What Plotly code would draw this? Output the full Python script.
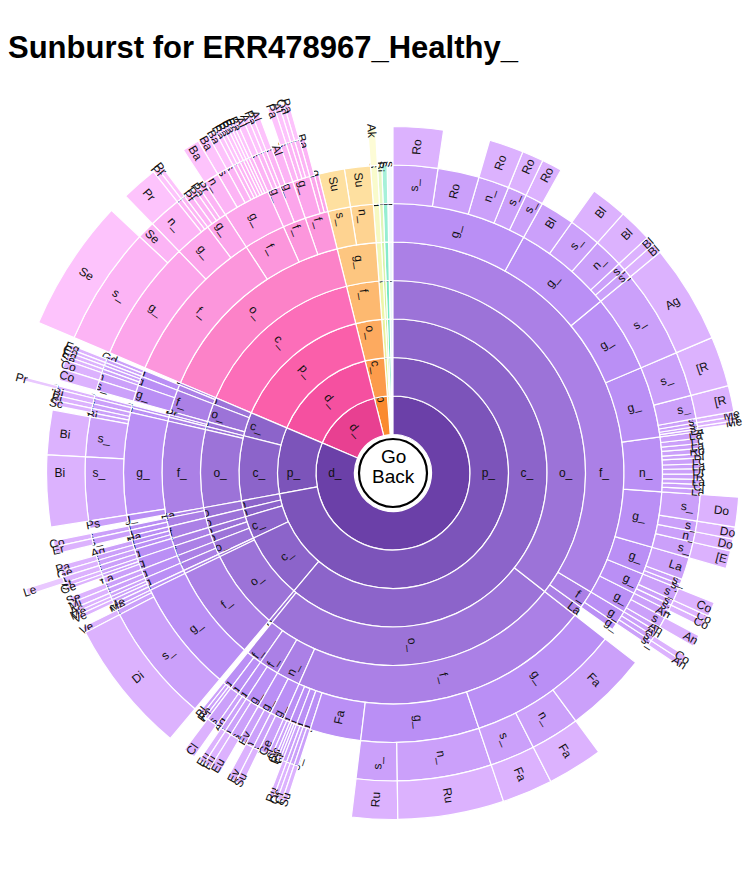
import plotly.graph_objects as go

# leaf paths run clockwise from 12 o'clock; "#n" only keeps sibling ids apart
LACH = "d_#A/p_#1/c_#1/o_#1/f_#1/"
LACH2 = "d_#A/p_#1/c_#1/o_#1/"
OSC = "d_#A/p_#1/c_#1/o_#2/"
NEG = "d_#A/p_#1/c_#2/"
C3 = "d_#A/p_#1/c_#3/"
N1 = "d_#A/p_#1/n_#1/"
N2 = "d_#A/p_#1/n_#2/"
ACT = "d_#A/p_#2/c_#1/"
COR = "d_#A/p_#2/c_#2/"
BAC = "d_#B/d_#1/p_#1/c_#1/o_#1/"
PRO = "p_#C/c_#1/o_#1/f_#1/g_#1/"

purple_paths = [
    LACH + "g_#1/s_#1/Ro", LACH + "g_#1/Ro", LACH + "g_#1/n_#1/Ro", LACH + "g_#1/s_#2/Ro", LACH + "g_#1/s_#3/Ro",
    LACH + "g_#2/Bl", LACH + "g_#2/s_#1/Bl", LACH + "g_#2/n_#1/Bl", LACH + "g_#2/s_#2/Bl", LACH + "g_#2/s_#3/Bl",
    LACH + "g_#3/s_#1/Ag",
    LACH + "g_#4/s_#1/[R", LACH + "g_#4/s_#2/[R", LACH + "g_#4/s_#3/Me", LACH + "g_#4/s_#4/[R",
    LACH + "g_#4/s_#5/Me", LACH + "g_#4/La",
    LACH + "n_#1/La#1", LACH + "n_#1/Lc#1", LACH + "n_#1/La#2", LACH + "n_#1/Ro", LACH + "n_#1/Bl",
    LACH + "n_#1/Lc#2", LACH + "n_#1/La#3", LACH + "n_#1/Dr", LACH + "n_#1/[R", LACH + "n_#1/La#4",
    LACH + "n_#1/Cl", LACH + "n_#1/La#5",
    LACH + "g_#5/s_#1/Do", LACH + "g_#5/s_#2/Do", LACH + "g_#5/n_#1/Do", LACH + "g_#5/s_#3/[E",
    LACH + "g_#6/La", LACH + "g_#6/s_#1", LACH + "g_#6/s_#2",
    LACH + "g_#7/s_#1/Co", LACH + "g_#7/s_#2/Co", LACH + "g_#7/s_#3/Co",
    LACH + "g_#8/An#1", LACH + "g_#8/s_#1/An", LACH + "g_#8/An#2",
    LACH2 + "f_#2/g_#1/An", LACH2 + "f_#2/g_#1/s_#1/Co", LACH2 + "f_#2/g_#1/s_#2/An", LACH2 + "f_#2/g_#2",
    LACH2 + "La",
    OSC + "f_#1/g_#1/Fa", OSC + "f_#1/g_#1/n_#1/Fa", OSC + "f_#1/g_#1/s_#1/Fa",
    OSC + "f_#1/g_#2/n_#1/Ru", OSC + "f_#1/g_#2/s_#1/Ru", OSC + "f_#1/Fa",
    OSC + "f_#1/g_#3/s_#1/Su", OSC + "f_#1/g_#3/s_#2/Cl", OSC + "f_#1/g_#4/s_#1/Oc", OSC + "f_#1/g_#4/s_#2/Ru",
    OSC + "f_#1/g_#5/cl", OSC + "f_#1/g_#5/Cl", OSC + "f_#1/g_#5/Ru", OSC + "f_#1/g_#6/Oc", OSC + "f_#1/g_#6/cl",
    OSC + "n_#1/g_#1/Ge", OSC + "n_#1/g_#1/s_#1/Su", OSC + "n_#1/g_#2/n_#1/Ev", OSC + "n_#1/g_#2/Ev",
    OSC + "f_#2/g_#1/s_#1/Eu", OSC + "f_#2/g_#1/n_#1/Eu", OSC + "f_#2/g_#2/s_#1/Eu", OSC + "f_#2/g_#2/Ag",
    OSC + "f_#3/g_#1/s_#1/Cl", OSC + "f_#3/g_#2/Cl", OSC + "f_#3/g_#2/Ro", OSC + "f_#3/g_#2/Bl",
    "d_#A/p_#1/c_#1/o_#3",
    NEG + "o_#1/f_#1/g_#1/s_#1/Di", NEG + "o_#1/f_#1/g_#1/s_#2/Ve", NEG + "o_#1/f_#1/g_#1/Me",
    NEG + "o_#2/f_#1/g_#1/Me",
    C3 + "o_#1/f_#1/g_#1/s_#1/Ve", C3 + "o_#1/f_#1/g_#1/s_#2/Me", C3 + "o_#1/f_#1/g_#1/s_#3/Ac",
    C3 + "o_#1/f_#2/g_#1/s_#1/Mi", C3 + "o_#1/f_#2/g_#1/s_#2/Se",
    C3 + "o_#2/f_#1/g_#1/La", C3 + "o_#2/f_#1/g_#1/s_#1/Ge", C3 + "o_#2/f_#1/g_#1/s_#2/St",
    C3 + "o_#3/f_#1/g_#1/s_#1/n_#1/Le", C3 + "o_#3/f_#1/g_#1/s_#2/Ge",
    N1 + "o_#1/f_#1/g_#1/s_#1/Pa", N1 + "o_#1/f_#1/g_#2/Ag", N1 + "o_#1/f_#1/Ha",
    N2 + "o_#1/f_#1/g_#1/s_#1/Er", N2 + "o_#1/f_#1/g_#2/s_#1/Co", N2 + "o_#1/Ba",
    ACT + "o_#1/f_#1/g_#0/Ps", ACT + "o_#1/f_#1/g_#1/s_#1/Bi", ACT + "o_#1/f_#1/g_#1/s_#2/Bi",
    ACT + "o_#1/f_#1/g_#1/Bi", ACT + "o_#1/f_#1/g_#1/s_#3/Sc", ACT + "o_#1/f_#1/g_#1/s_#4/Bi",
    ACT + "o_#2/f_#1/g_#1/s_#1/Bi",
    COR + "o_#1/f_#1/g_#1/s_#1/n_#1/Pr", COR + "o_#1/Pr",
    COR + "o_#2/f_#1/g_#1/s_#1/Co", COR + "o_#2/f_#1/g_#1/n_#1/Co",
    COR + "o_#2/f_#1/g_#2/s_#1/Se", COR + "o_#2/f_#1/g_#2/s_#2/Eg", COR + "o_#2/f_#1/g_#2/s_#3/Co",
    COR + "o_#3/f_#1/g_#1/s_#1/Eg", COR + "o_#3/f_#1/g_#1/Gd", COR + "o_#3/f_#2",
]
purple_sizes = [
    8.4, 7.8, 5.8, 3.6, 3.4,
    6.5, 6.1, 5.6, 1.5, 1.7,
    16.6,
    8.4, 4.4, 0.8, 0.7,
    0.5, 0.5,
    1.2, 1.0, 0.9, 1.0, 0.8,
    1.1, 0.9, 1.0, 1.0, 0.9,
    0.9, 1.0,
    5.0, 2.0, 2.0, 3.0,
    4.2, 1.0, 0.8,
    2.4, 1.0, 1.1,
    1.5, 2.0, 1.0,
    1.0, 1.0, 1.0, 1.5,
    2.5,
    15.6, 9.3, 8.5,
    17.8, 7.7, 11.0,
    0.8, 0.8, 0.7, 0.8,
    0.5, 0.5, 0.5, 0.7, 0.8,
    1.8, 1.2, 1.5, 1.5,
    1.8, 1.2, 1.0, 1.0,
    2.0, 0.6, 0.7, 0.7,
    1.0,
    22.6, 1.0, 0.6,
    0.8,
    0.7, 0.6, 0.7,
    1.0, 1.0,
    1.2, 0.6, 0.7,
    1.0, 1.0,
    1.0, 1.0, 1.0,
    1.2, 1.0, 0.9,
    1.4, 12.0, 7.5,
    0.8, 0.8, 0.9,
    1.0,
    0.6, 0.9,
    2.0, 1.5,
    0.7, 0.7, 0.6,
    0.7, 0.7, 0.6,
]

pink_paths = [
    BAC + "f_#1/g_#1/s_#1/Se", BAC + "f_#1/g_#1/Se",
    BAC + "f_#1/g_#2/n_#1/Pr", BAC + "f_#1/g_#2/s_#1/Pt", BAC + "f_#1/g_#2/s_#2/Pr",
    BAC + "f_#1/g_#3/Pt", BAC + "f_#1/g_#3/Pr#1", BAC + "f_#1/g_#3/Pa", BAC + "f_#1/g_#3/Pr#2",
    BAC + "f_#2/g_#1/n_#1/Ba", BAC + "f_#2/g_#1/s_#1/Ba", BAC + "f_#2/g_#1/s_#2/Ba",
    BAC + "f_#2/g_#1/s_#3/Ba", BAC + "f_#2/g_#1/s_#4/Ba", BAC + "f_#2/g_#1/s_#5/Ba",
    BAC + "f_#2/g_#1/s_#6/Ba", BAC + "f_#2/g_#1/s_#7/Bc", BAC + "f_#2/g_#1/s_#8/Ba",
    BAC + "f_#3/g_#1/s_#1/Al", BAC + "f_#3/g_#1/s_#2/Al", BAC + "f_#3/g_#1/s_#3/Pa",
    BAC + "f_#3/g_#2/s_#1/Al", BAC + "f_#3/g_#2/Al",
    BAC + "f_#4/g_#1/s_#1/Pa", BAC + "f_#4/g_#1/s_#2/Al", BAC + "f_#4/g_#1/s_#3/Od",
    BAC + "f_#4/g_#1/s_#4/Pa", BAC + "f_#4/g_#2/Ba", BAC + "f_#4/g_#3",
]
pink_sizes = [
    20.0, 3.0,
    5.5, 0.8, 0.7,
    1.0, 1.0, 0.8, 1.2,
    2.6, 1.7, 1.2,
    0.7, 0.6, 0.6,
    0.5, 0.5, 0.6,
    1.0, 0.8, 0.7,
    1.0, 1.5,
    1.0, 0.8, 0.7,
    0.8, 0.9, 0.8,
]

other_paths = [
    PRO + "s_#1/Su", PRO + "n_#1/Su",
    "d_#D/p_#1/c_#1/o_#1/f_#1/g_#1/s_#1/Ak",
    "d_#E/p_#1/c_#1/o_#1/f_#1/g_#1/Bi",
    "d_#F/p_#1/c_#1/o_#1/f_#1/g_#1/s_#1",
    "d_#G/p_#1/c_#1/o_#1/f_#1/g_#1/s_#1",
]
other_sizes = [4.9, 4.9, 1.3, 0.8, 1.0, 1.1]

# ring colours per top-level branch, innermost first
palette = {
    "A": ["#6b40a8", "#7c54ba", "#8c64ca", "#9c73d8", "#ab80e6", "#ba8ff5", "#cba0fa", "#dcb2fe", "#e9c8ff"],
    "B": ["#e84091", "#f550a0", "#fa5faa", "#fc6eb9", "#fc82c8", "#fc96dc", "#fca5eb", "#fcb4f5", "#fdc3fc"],
    "C": ["#fa8a2e", "#fc9b4b", "#fdaa5f", "#fdb970", "#fdc680", "#fed391", "#fee0a0"],
    "D": ["#dcec7a", "#e3ef8a", "#e9f29a", "#eef5a8", "#f2f7b6", "#f6f9c2", "#f9fbcc", "#fdfcd6"],
    "E": ["#b5ea6c", "#bfed7c", "#c8ef8c", "#d0f19b", "#d8f4aa", "#e0f6b8", "#e7f8c5"],
    "F": ["#46dfae", "#56e2b5", "#66e5bc", "#76e8c3", "#86ebcb", "#96eed2", "#a6f1d9"],
    "G": ["#e4f1fb", "#e7f2fb", "#eaf4fc", "#edf6fc", "#f0f7fd", "#f3f9fd", "#f6fafe"],
}

paths = purple_paths + pink_paths + other_paths
sizes = purple_sizes + pink_sizes + other_sizes

ids, labels, parents, values, colors = ["root"], [""], [""], [0], ["white"]
seen = set()
# plotly lays sectors counterclockwise, so feed them reversed
for path, size in zip(paths[::-1], sizes[::-1]):
    parts = path.split("/")
    group = parts[0].split("#")[1]
    for depth in range(1, len(parts) + 1):
        node = "/".join(parts[:depth])
        if node in seen:
            continue
        seen.add(node)
        ids.append(node)
        labels.append(parts[depth - 1].split("#")[0])
        parents.append("/".join(parts[:depth - 1]) or "root")
        values.append(size if depth == len(parts) else 0)
        colors.append(palette[group][depth - 1])

fig = go.Figure(go.Sunburst(
    ids=ids, labels=labels, parents=parents, values=values,
    branchvalues="remainder", sort=False, rotation=90,
    marker=dict(colors=colors, line=dict(color="white", width=1.2)),
    leaf=dict(opacity=1),
    textinfo="label", insidetextorientation="radial",
    textfont=dict(family="Liberation Sans, Arial, sans-serif", size=12, color="#111"),
    hoverinfo="skip",
))

r_circle = 34 / 770
fig.add_shape(type="circle", xref="paper", yref="paper",
              x0=0.5 - r_circle, x1=0.5 + r_circle, y0=0.5 - r_circle, y1=0.5 + r_circle,
              line=dict(color="black", width=2.2))
center_font = dict(family="Liberation Sans, Arial, sans-serif", size=19, color="black")
fig.add_annotation(x=0.5, y=0.5, xref="paper", yref="paper", text="Go", showarrow=False,
                   yshift=17, font=center_font)
fig.add_annotation(x=0.5, y=0.5, xref="paper", yref="paper", text="Back", showarrow=False,
                   yshift=-3, font=center_font)

# the page body adds 8px on the left and top
fig.update_layout(
    width=770, height=860,
    margin=dict(l=0, r=0, t=80, b=10),
    paper_bgcolor="white",
    uniformtext=dict(minsize=12, mode="show"),
    title=dict(text="<b>Sunburst for ERR478967_Healthy_</b>", x=0, xanchor="left",
               y=1 - 39 / 860, yanchor="middle", yref="container",
               font=dict(family="Liberation Sans, Arial, sans-serif", size=31, color="black")),
)

fig.write_html("out.html")
